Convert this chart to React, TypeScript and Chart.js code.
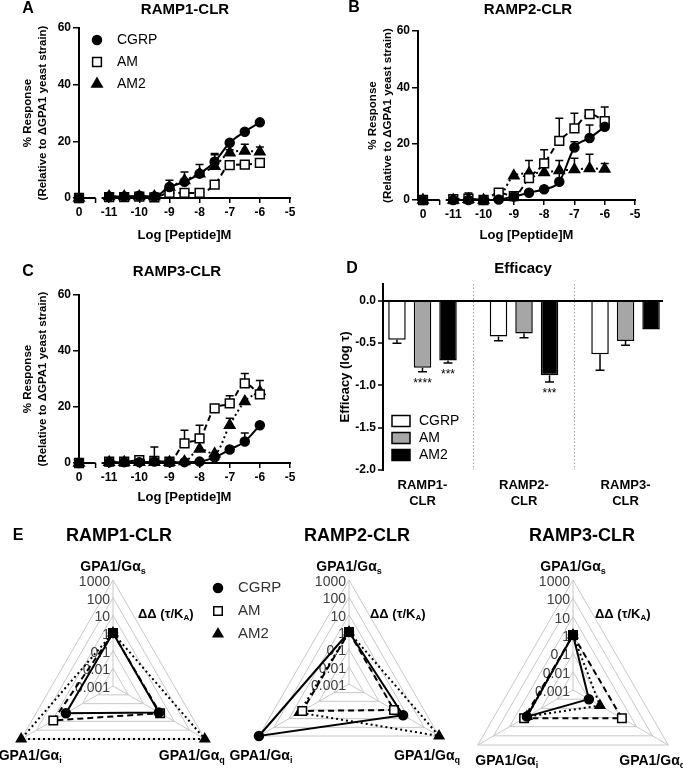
import React, { useEffect, useRef } from 'react';
import { Chart, registerables } from 'chart.js';

Chart.register(...registerables);

const FONT = "'Liberation Sans', Arial, Helvetica, sans-serif";

// ---------- shared ----------
const SERIES = ['CGRP', 'AM', 'AM2'];
const LOG_DOSE = [-11, -10.5, -10, -9.5, -9, -8.5, -8, -7.5, -7, -6.5, -6];
const BASAL_POSITION = -12;
const X_TICK_VALUES = [-12, -11, -10, -9, -8, -7, -6, -5];
const X_TICK_LABELS = ['0', '-11', '-10', '-9', '-8', '-7', '-6', '-5'];
const AXIS_BREAK = [-11.45, -11.25];
const Y_TICK_VALUES = [0, 20, 40, 60];
const X_TITLE = 'Log [Peptide]M';
const Y_TITLE = ['% Response', '(Relative to \u0394GPA1 yeast strain)'];

// ---------- panel A : RAMP1-CLR ----------
const A_CGRP = [0.5, 0.5, 0.8, 0.5, 3.9, 5.7, 8.6, 12.8, 19.5, 23.4, 26.7];
const A_CGRP_ERR = [0, 0, 0, 0, 0, 0, 0, 2.5, 0, 0, 0];
const A_AM = [0.3, 0.3, 0.5, 0.2, 1.8, 1.8, 1.8, 4.7, 11.6, 11.8, 12.4];
const A_AM_ERR = [0, 0, 0, 0, 0, 0, 0, 0, 1.2, 0, 0];
const A_AM2 = [0.5, 0.5, 0.5, 0.5, 3.9, 6.2, 8.6, 11.2, 16.0, 16.6, 16.3];
const A_AM2_ERR = [0, 0, 0, 0, 2.4, 3.0, 3.2, 4.5, 1.0, 2.4, 1.7];
const A_BASAL = [0, 0, 0];

// ---------- panel B : RAMP2-CLR ----------
const B_CGRP = [0, 0, 0, 0.2, 1.2, 2.6, 3.8, 6.5, 18.6, 22.0, 26.0];
const B_CGRP_ERR = [0, 0, 0, 0, 0, 0, 0, 7.5, 2.1, 4.6, 0];
const B_AM = [0.3, 0.5, 0, 2.6, 1.4, 7.8, 13.0, 21.0, 25.4, 30.5, 28.0];
const B_AM_ERR = [0, 2.0, 0, 0, 0, 0, 4.8, 8.0, 5.4, 0, 5.0];
const B_AM2 = [0, 0.3, 0, 1.0, 8.6, 9.5, 9.8, 10.5, 10.8, 11.2, 11.0];
const B_AM2_ERR = [0, 0, 0, 0, 0, 4.5, 0, 0, 4.0, 5.0, 2.0];
const B_BASAL = [0, 0, 0];

// ---------- panel C : RAMP3-CLR ----------
const C_CGRP = [0.3, 0.3, 0.3, 0.5, 0.3, 0.3, 0.5, 2.0, 4.8, 7.7, 13.5];
const C_CGRP_ERR = [0, 0, 0, 5.2, 0, 0, 0, 0, 0, 3.0, 0];
const C_AM = [0.5, 0.5, 1.0, 0.8, 0.5, 7.0, 8.8, 19.5, 21.3, 28.4, 24.5];
const C_AM_ERR = [0, 0, 0.5, 0, 0, 4.7, 4.7, 0, 2.7, 3.6, 5.0];
const C_AM2 = [0.3, 0.3, 0.3, 0.3, 0.3, 0.5, 5.0, 3.3, 13.5, 22.0, 25.5];
const C_AM2_ERR = [0, 0, 0, 0, 0, 0, 0, 0, 2.5, 0, 0];
const C_BASAL = [0, 0, 0];

// ---------- panel D : Efficacy ----------
const D_CATEGORIES = [['RAMP1-', 'CLR'], ['RAMP2-', 'CLR'], ['RAMP3-', 'CLR']];
const D_POS = [0, 1, 2];
const D_CGRP = [-0.46, -0.42, -0.63];
const D_CGRP_ERR = [0.04, 0.05, 0.19];
const D_AM = [-0.79, -0.385, -0.475];
const D_AM_ERR = [0.047, 0.05, 0.05];
const D_AM2 = [-0.705, -0.88, -0.337];
const D_AM2_ERR = [0.03, 0.08, 0];
const D_CGRP_STARS = ['', '', ''];
const D_AM_STARS = ['****', '', ''];
const D_AM2_STARS = ['***', '***', ''];
const D_Y_TICKS = [-2, -1.5, -1, -0.5, 0];
const D_Y_TITLE = 'Efficacy (log \u03c4)';
const D_FILLS = ['#ffffff', '#a6a6a6', '#000000'];

// ---------- panel E : radar (ΔΔ τ/KA) ----------
const RADAR_TITLES = ['RAMP1-CLR', 'RAMP2-CLR', 'RAMP3-CLR'];
const RADAR_AXES = ['GPA1/G\u03b1s', 'GPA1/G\u03b1q', 'GPA1/G\u03b1i'];
const RADAR_AXIS_SUBS = ['s', 'q', 'i'];
const RADAR_TICK_LABELS = ['0.001', '0.01', '0.1', '1', '10', '100', '1000'];
const E1_CGRP = [1, 1, 1.2];
const E1_AM = [1, 1.2, 8];
const E1_AM2 = [1, 1000, 1000];
const E2_CGRP = [1, 4, 1000];
const E2_AM = [1, 1, 1.3];
const E2_AM2 = [1, 1000, 2];
const E3_CGRP = [1, 0.01, 0.8];
const E3_AM = [1, 1.2, 1.2];
const E3_AM2 = [1, 0.05, 0.8];

// ---------- styles ----------
const MARKERS = ['circle', 'rect', 'triangle'];
const MARKER_FILL = ['#000000', '#ffffff', '#000000'];
const MARKER_RADIUS = [4.5, 6.2, 6];
const RADAR_MARKER_RADIUS = [4.5, 6, 5.5];
const LINE_DASH = [[], [6, 4], [2, 3]];

function drawMarker(ctx: any, style: string, x: number, y: number, r: number, fill: string) {
  ctx.save();
  ctx.beginPath();
  if (style === 'circle') ctx.arc(x, y, r, 0, Math.PI * 2);
  else if (style === 'rect') {
    const s = r * Math.SQRT1_2;
    ctx.rect(x - s, y - s, 2 * s, 2 * s);
  } else {
    ctx.moveTo(x, y - r);
    ctx.lineTo(x + 0.866 * r, y + 0.5 * r);
    ctx.lineTo(x - 0.866 * r, y + 0.5 * r);
    ctx.closePath();
  }
  ctx.fillStyle = fill;
  ctx.fill();
  ctx.lineWidth = 1.5;
  ctx.strokeStyle = '#000';
  ctx.stroke();
  ctx.restore();
}

function drawText(ctx: any, t: string, x: number, y: number, size: number, o: any = {}) {
  ctx.save();
  ctx.font = `${o.bold ? 'bold ' : ''}${size}px ${FONT}`;
  ctx.fillStyle = o.color || '#000';
  ctx.textAlign = o.align || 'center';
  ctx.textBaseline = 'middle';
  ctx.translate(x, y);
  if (o.rotate) ctx.rotate(o.rotate);
  ctx.fillText(t, 0, 0);
  ctx.restore();
}

function drawRich(ctx: any, parts: [string, boolean][], x: number, y: number, size: number, bold: boolean, align: string, color = '#000') {
  const main = `${bold ? 'bold ' : ''}${size}px ${FONT}`;
  const sub = `${bold ? 'bold ' : ''}${Math.round(size * 0.62)}px ${FONT}`;
  ctx.save();
  ctx.fillStyle = color;
  ctx.textBaseline = 'alphabetic';
  ctx.textAlign = 'left';
  let total = 0;
  for (const [t, s] of parts) {
    ctx.font = s ? sub : main;
    total += ctx.measureText(t).width;
  }
  let cx = align === 'left' ? x : align === 'center' ? x - total / 2 : x - total;
  const base = y + size * 0.35;
  for (const [t, s] of parts) {
    ctx.font = s ? sub : main;
    ctx.fillText(t, cx, s ? base + size * 0.22 : base);
    cx += ctx.measureText(t).width;
  }
  ctx.restore();
}

// ---------- dose-response panels ----------
function doseConfig(p: any): any {
  const datasets: any[] = [];
  p.series.forEach((s: any, k: number) => {
    datasets.push({
      label: SERIES[k],
      data: LOG_DOSE.map((x, i) => ({ x, y: s.values[i] })),
      errors: s.errors,
      showLine: true,
      borderColor: '#000',
      borderWidth: 2,
      borderDash: LINE_DASH[k],
      cubicInterpolationMode: 'monotone',
      pointStyle: MARKERS[k],
      pointRadius: MARKER_RADIUS[k],
      pointBackgroundColor: MARKER_FILL[k],
      pointBorderColor: '#000',
      pointBorderWidth: 1.5,
      clip: false,
    });
  });
  p.series.forEach((s: any, k: number) => {
    datasets.push({
      label: SERIES[k] + ' basal',
      data: [{ x: BASAL_POSITION, y: s.basal }],
      showLine: false,
      pointStyle: MARKERS[k],
      pointRadius: MARKER_RADIUS[k],
      pointBackgroundColor: MARKER_FILL[k],
      pointBorderColor: '#000',
      pointBorderWidth: 1.5,
      clip: false,
    });
  });

  const decor = {
    id: 'doseDecor',
    beforeDatasetsDraw(chart: any) {
      const ctx = chart.ctx;
      const xs = chart.scales.x;
      const ys = chart.scales.y;
      ctx.save();
      ctx.strokeStyle = '#000';
      ctx.lineWidth = 1.5;
      chart.data.datasets.forEach((ds: any) => {
        if (!ds.errors) return;
        ds.data.forEach((pt: any, i: number) => {
          const e = ds.errors[i];
          if (!e) return;
          const px = xs.getPixelForValue(pt.x);
          const py = ys.getPixelForValue(pt.y);
          const pe = ys.getPixelForValue(pt.y + e);
          ctx.beginPath();
          ctx.moveTo(px, py);
          ctx.lineTo(px, pe);
          ctx.moveTo(px - 4, pe);
          ctx.lineTo(px + 4, pe);
          ctx.stroke();
        });
      });
      ctx.restore();
    },
    afterDraw(chart: any) {
      const ctx = chart.ctx;
      const xs = chart.scales.x;
      const a = chart.chartArea;
      ctx.save();
      ctx.strokeStyle = '#000';
      ctx.lineWidth = 2;
      const b0 = xs.getPixelForValue(AXIS_BREAK[0]);
      const b1 = xs.getPixelForValue(AXIS_BREAK[1]);
      ctx.beginPath();
      ctx.moveTo(a.left - 1, a.bottom);
      ctx.lineTo(b0, a.bottom);
      ctx.moveTo(b1, a.bottom);
      ctx.lineTo(a.right + 1, a.bottom);
      ctx.stroke();
      ctx.lineWidth = 1.5;
      ctx.beginPath();
      ctx.moveTo(b0, a.bottom);
      ctx.lineTo(b0, a.bottom + 5);
      ctx.stroke();
      ctx.restore();
      drawText(ctx, p.letter, p.letterPos[0], p.letterPos[1], 16, { bold: true });
      drawText(ctx, p.title, p.titlePos[0], p.titlePos[1], 15, { bold: true });
      if (p.legend) {
        SERIES.forEach((name, k) => {
          const y = 40 + k * 22;
          drawMarker(ctx, MARKERS[k], 97, y, MARKER_RADIUS[k], MARKER_FILL[k]);
          drawText(ctx, name, 117, y, 14, { align: 'left' });
        });
      }
    },
  };

  return {
    type: 'scatter',
    data: { datasets },
    plugins: [decor],
    options: {
      animation: false,
      responsive: false,
      events: [],
      layout: { padding: { left: 0, right: p.width - p.area.right, top: p.area.top, bottom: 0 } },
      plugins: { legend: { display: false }, tooltip: { enabled: false } },
      scales: {
        x: {
          type: 'linear',
          min: p.xMin,
          max: -5,
          afterBuildTicks: (s: any) => {
            s.ticks = X_TICK_VALUES.map((v) => ({ value: v }));
          },
          afterFit: (s: any) => {
            s.height = p.height - p.area.bottom;
          },
          ticks: {
            autoSkip: false,
            maxRotation: 0,
            font: { size: 12, weight: 'bold' },
            color: '#000',
            padding: 2,
            callback: (v: number) => X_TICK_LABELS[X_TICK_VALUES.indexOf(v)],
          },
          grid: { drawOnChartArea: false, color: '#000', lineWidth: 1.5, tickLength: 5 },
          border: { display: false },
          title: {
            display: true,
            text: X_TITLE,
            color: '#000',
            font: { size: 13, weight: 'bold', lineHeight: 1.2 },
            padding: { top: 0, bottom: p.xTitlePad },
          },
        },
        y: {
          type: 'linear',
          min: 0,
          max: 60,
          afterBuildTicks: (s: any) => {
            s.ticks = Y_TICK_VALUES.map((v) => ({ value: v }));
          },
          afterFit: (s: any) => {
            s.width = p.area.left;
          },
          ticks: { font: { size: 12, weight: 'bold' }, color: '#000', padding: 2 },
          grid: { drawOnChartArea: false, color: '#000', lineWidth: 1.5, tickLength: 6 },
          border: { display: true, color: '#000', width: 2 },
          title: {
            display: true,
            text: Y_TITLE,
            color: '#000',
            font: { size: 11.5, weight: 'bold', lineHeight: 1.3 },
            padding: { top: p.yTitlePad, bottom: 0 },
          },
        },
      },
    },
  };
}

const PANEL_A = {
  letter: 'A', title: 'RAMP1-CLR', legend: true,
  series: [
    { values: A_CGRP, errors: A_CGRP_ERR, basal: A_BASAL[0] },
    { values: A_AM, errors: A_AM_ERR, basal: A_BASAL[1] },
    { values: A_AM2, errors: A_AM2_ERR, basal: A_BASAL[2] },
  ],
  width: 340, height: 250,
  area: { left: 79, right: 290, top: 28, bottom: 198 },
  xMin: -12, yTitlePad: 20.5, xTitlePad: 7.2,
  letterPos: [28, 9], titlePos: [185, 10],
};
const PANEL_B = {
  letter: 'B', title: 'RAMP2-CLR', legend: false,
  series: [
    { values: B_CGRP, errors: B_CGRP_ERR, basal: B_BASAL[0] },
    { values: B_AM, errors: B_AM_ERR, basal: B_BASAL[1] },
    { values: B_AM2, errors: B_AM2_ERR, basal: B_BASAL[2] },
  ],
  width: 343, height: 250,
  area: { left: 78, right: 295, top: 31, bottom: 200 },
  xMin: -12.165, yTitlePad: 25.5, xTitlePad: 7.2,
  letterPos: [14, 8], titlePos: [188, 10],
};
const PANEL_C = {
  letter: 'C', title: 'RAMP3-CLR', legend: false,
  series: [
    { values: C_CGRP, errors: C_CGRP_ERR, basal: C_BASAL[0] },
    { values: C_AM, errors: C_AM_ERR, basal: C_BASAL[1] },
    { values: C_AM2, errors: C_AM2_ERR, basal: C_BASAL[2] },
  ],
  width: 334, height: 265,
  area: { left: 79, right: 290, top: 45, bottom: 213 },
  xMin: -12, yTitlePad: 20.5, xTitlePad: 10.2,
  letterPos: [28, 22], titlePos: [177, 22],
};

// ---------- efficacy bar panel ----------
function efficacyConfig(): any {
  const W = 349, H = 265;
  const area = { left: 49, right: 329, top: 34, bottom: 220 };
  const xMin = -0.389, xMax = 2.369;
  const vals = [D_CGRP, D_AM, D_AM2];
  const errs = [D_CGRP_ERR, D_AM_ERR, D_AM2_ERR];
  const stars = [D_CGRP_STARS, D_AM_STARS, D_AM2_STARS];
  const datasets = SERIES.map((name, k) => ({
    label: name,
    data: D_POS.map((x, i) => ({ x, y: vals[k][i] })),
    errors: errs[k],
    stars: stars[k],
    backgroundColor: D_FILLS[k],
    borderColor: '#000',
    borderWidth: 1.5,
    categoryPercentage: 0.754,
    barPercentage: 0.686,
  }));
  const decor = {
    id: 'effDecor',
    afterDatasetsDraw(chart: any) {
      const ctx = chart.ctx;
      const ys = chart.scales.y;
      ctx.save();
      ctx.strokeStyle = '#000';
      ctx.lineWidth = 1.5;
      chart.data.datasets.forEach((ds: any, di: number) => {
        const meta = chart.getDatasetMeta(di);
        ds.data.forEach((pt: any, i: number) => {
          const px = meta.data[i].x;
          const e = ds.errors[i];
          const pEnd = ys.getPixelForValue(pt.y - e);
          if (e) {
            ctx.beginPath();
            ctx.moveTo(px, ys.getPixelForValue(pt.y));
            ctx.lineTo(px, pEnd);
            ctx.moveTo(px - 4.5, pEnd);
            ctx.lineTo(px + 4.5, pEnd);
            ctx.stroke();
          }
          if (ds.stars[i]) {
            ctx.save();
            ctx.font = `12px ${FONT}`;
            ctx.fillStyle = '#000';
            ctx.textAlign = 'center';
            ctx.textBaseline = 'top';
            ctx.fillText(ds.stars[i], px, pEnd + 6);
            ctx.restore();
          }
        });
      });
      ctx.restore();
    },
    afterDraw(chart: any) {
      const ctx = chart.ctx;
      drawText(ctx, 'D', 18, 19, 16, { bold: true });
      drawText(ctx, 'Efficacy', 189, 19, 15, { bold: true });
      SERIES.forEach((name, k) => {
        const y = 171 + k * 17;
        ctx.save();
        ctx.fillStyle = D_FILLS[k];
        ctx.strokeStyle = '#000';
        ctx.lineWidth = 1.5;
        ctx.fillRect(58, y - 5.5, 18, 11);
        ctx.strokeRect(58, y - 5.5, 18, 11);
        ctx.restore();
        drawText(ctx, name, 85, y, 14, { align: 'left' });
      });
    },
  };
  return {
    type: 'bar',
    data: { datasets },
    plugins: [decor],
    options: {
      animation: false,
      responsive: false,
      events: [],
      layout: { padding: { left: 0, right: W - area.right, top: area.top, bottom: 0 } },
      plugins: { legend: { display: false }, tooltip: { enabled: false } },
      scales: {
        x: {
          type: 'linear',
          position: 'bottom',
          min: xMin,
          max: xMax,
          offset: false,
          afterBuildTicks: (s: any) => {
            s.ticks = D_POS.map((v) => ({ value: v }));
          },
          afterFit: (s: any) => {
            s.height = H - area.bottom;
          },
          ticks: {
            autoSkip: false,
            maxRotation: 0,
            padding: 0,
            color: '#000',
            font: { size: 13, weight: 'bold', lineHeight: 1.2 },
            callback: (v: number) => D_CATEGORIES[v],
          },
          grid: { display: false, offset: false },
          border: { display: false },
        },
        xg: {
          type: 'linear',
          axis: 'x',
          position: 'bottom',
          min: xMin,
          max: xMax,
          offset: false,
          afterBuildTicks: (s: any) => {
            s.ticks = [{ value: 0.5 }, { value: 1.5 }];
          },
          afterFit: (s: any) => {
            s.height = 0;
          },
          ticks: { display: false },
          grid: { display: true, offset: false, drawTicks: false, color: '#a0a0a0', lineWidth: 1 },
          border: { display: false, dash: [1.5, 2] },
        },
        y: {
          type: 'linear',
          min: -2,
          max: 0.2,
          afterBuildTicks: (s: any) => {
            s.ticks = D_Y_TICKS.map((v) => ({ value: v }));
          },
          afterFit: (s: any) => {
            s.width = area.left;
          },
          ticks: {
            color: '#000',
            padding: 2,
            font: { size: 12, weight: 'bold' },
            callback: (v: number) => v.toFixed(1),
          },
          grid: {
            z: 1,
            drawOnChartArea: true,
            color: (c: any) => (c.tick && c.tick.value === 0 ? '#000' : 'rgba(0,0,0,0)'),
            lineWidth: 2,
            tickColor: '#000',
            tickWidth: 1.5,
            tickLength: 5,
          },
          border: { display: true, color: '#000', width: 2, z: 1 },
          title: {
            display: true,
            text: D_Y_TITLE,
            color: '#000',
            font: { size: 13, weight: 'bold', lineHeight: 1 },
            padding: { top: 4.5, bottom: 0 },
          },
        },
      },
    },
  };
}

// ---------- radar panel ----------
function radarConfig(): any {
  const CX = [113, 349, 573];
  const CY = [171, 169, 175];
  const R = [106, 104, 110];
  const LABEL_OFF = [
    [[0, -14], [-13, 16], [9, 16]],
    [[0, -14], [-12, 19], [2, 19]],
    [[0, -14], [-16, 15], [29, 15]],
  ];
  const DD_X = [138, 370, 595];
  const sets = [
    [E1_CGRP, E1_AM, E1_AM2],
    [E2_CGRP, E2_AM, E2_AM2],
    [E3_CGRP, E3_AM, E3_AM2],
  ];
  const datasets: any[] = [];
  sets.forEach((set, r) => {
    set.forEach((vals, k) => {
      datasets.push({
        label: `${RADAR_TITLES[r]} ${SERIES[k]}`,
        data: vals.map((v) => Math.log10(v)),
        rAxisID: 'r' + (r + 1),
        fill: false,
        borderColor: '#000',
        borderWidth: 2,
        borderDash: LINE_DASH[k],
        pointStyle: MARKERS[k],
        pointRadius: RADAR_MARKER_RADIUS[k],
        pointBackgroundColor: MARKER_FILL[k],
        pointBorderColor: '#000',
        pointBorderWidth: 1.5,
        clip: false,
      });
    });
  });
  const scales: any = {};
  [0, 1, 2].forEach((i) => {
    scales['r' + (i + 1)] = {
      type: 'radialLinear',
      axis: 'r',
      min: -3,
      max: 3,
      ticks: { display: false, stepSize: 1 },
      pointLabels: { display: false },
      grid: { color: '#c8c8c8', lineWidth: 1 },
      angleLines: { color: '#c8c8c8', lineWidth: 1 },
      afterFit: (s: any) => {
        s.xCenter = CX[i];
        s.yCenter = CY[i];
        s.drawingArea = R[i];
      },
    };
  });
  const decor = {
    id: 'radarDecor',
    beforeDatasetsDraw(chart: any) {
      const ctx = chart.ctx;
      [0, 1, 2].forEach((i) => {
        const s = chart.scales['r' + (i + 1)];
        s.ticks.forEach((t: any, j: number) => {
          const d = s.getDistanceFromCenterForValue(t.value);
          drawText(ctx, RADAR_TICK_LABELS[j], s.xCenter - 3, s.yCenter - d + 2, 14, { align: 'right', color: '#404040' });
        });
      });
    },
    afterDraw(chart: any) {
      const ctx = chart.ctx;
      drawText(ctx, 'E', 18, 21, 16, { bold: true });
      [0, 1, 2].forEach((i) => {
        const s = chart.scales['r' + (i + 1)];
        drawText(ctx, RADAR_TITLES[i], [119, 357, 582][i], 21, 18, { bold: true });
        RADAR_AXES.forEach((lab, j) => {
          const pos = s.getPointPosition(j, s.drawingArea);
          const off = LABEL_OFF[i][j];
          drawRich(ctx, [[lab.slice(0, -1), false], [RADAR_AXIS_SUBS[j], true]], pos.x + off[0], pos.y + off[1], 14, true, 'center');
        });
        drawRich(ctx, [['\u0394\u0394 (\u03c4/K', false], ['A', true], [')', false]], DD_X[i], 98, 13, true, 'left');
      });
      SERIES.forEach((name, k) => {
        const y = 73 + k * 23;
        drawMarker(ctx, MARKERS[k], 218, y, RADAR_MARKER_RADIUS[k], MARKER_FILL[k]);
        drawText(ctx, name, 238, y, 15, { align: 'left', color: '#333' });
      });
    },
  };
  return {
    type: 'radar',
    data: { labels: RADAR_AXES, datasets },
    plugins: [decor],
    options: {
      animation: false,
      responsive: false,
      events: [],
      layout: { padding: 0 },
      plugins: { legend: { display: false }, tooltip: { enabled: false } },
      scales,
    },
  };
}

export default function App() {
  const aRef = useRef<HTMLCanvasElement>(null);
  const bRef = useRef<HTMLCanvasElement>(null);
  const cRef = useRef<HTMLCanvasElement>(null);
  const dRef = useRef<HTMLCanvasElement>(null);
  const eRef = useRef<HTMLCanvasElement>(null);

  useEffect(() => {
    document.body.style.margin = '0';
    Chart.defaults.font.family = FONT;
    Chart.defaults.color = '#000';
    const charts = [
      new Chart(aRef.current as any, doseConfig(PANEL_A)),
      new Chart(bRef.current as any, doseConfig(PANEL_B)),
      new Chart(cRef.current as any, doseConfig(PANEL_C)),
      new Chart(dRef.current as any, efficacyConfig()),
      new Chart(eRef.current as any, radarConfig()),
    ];
    return () => charts.forEach((c) => c.destroy());
  }, []);

  const cv = (left: number, top: number, w: number, h: number): any => ({
    position: 'absolute', left, top, width: w, height: h,
  });

  return (
    <div style={{ position: 'relative', width: 683, height: 768, background: '#fff', overflow: 'hidden' }}>
      <canvas ref={aRef} width={340} height={250} style={cv(0, 0, 340, 250)} />
      <canvas ref={bRef} width={343} height={250} style={cv(340, 0, 343, 250)} />
      <canvas ref={cRef} width={334} height={265} style={cv(0, 250, 334, 265)} />
      <canvas ref={dRef} width={349} height={265} style={cv(334, 250, 349, 265)} />
      <canvas ref={eRef} width={683} height={253} style={cv(0, 515, 683, 253)} />
    </div>
  );
}
